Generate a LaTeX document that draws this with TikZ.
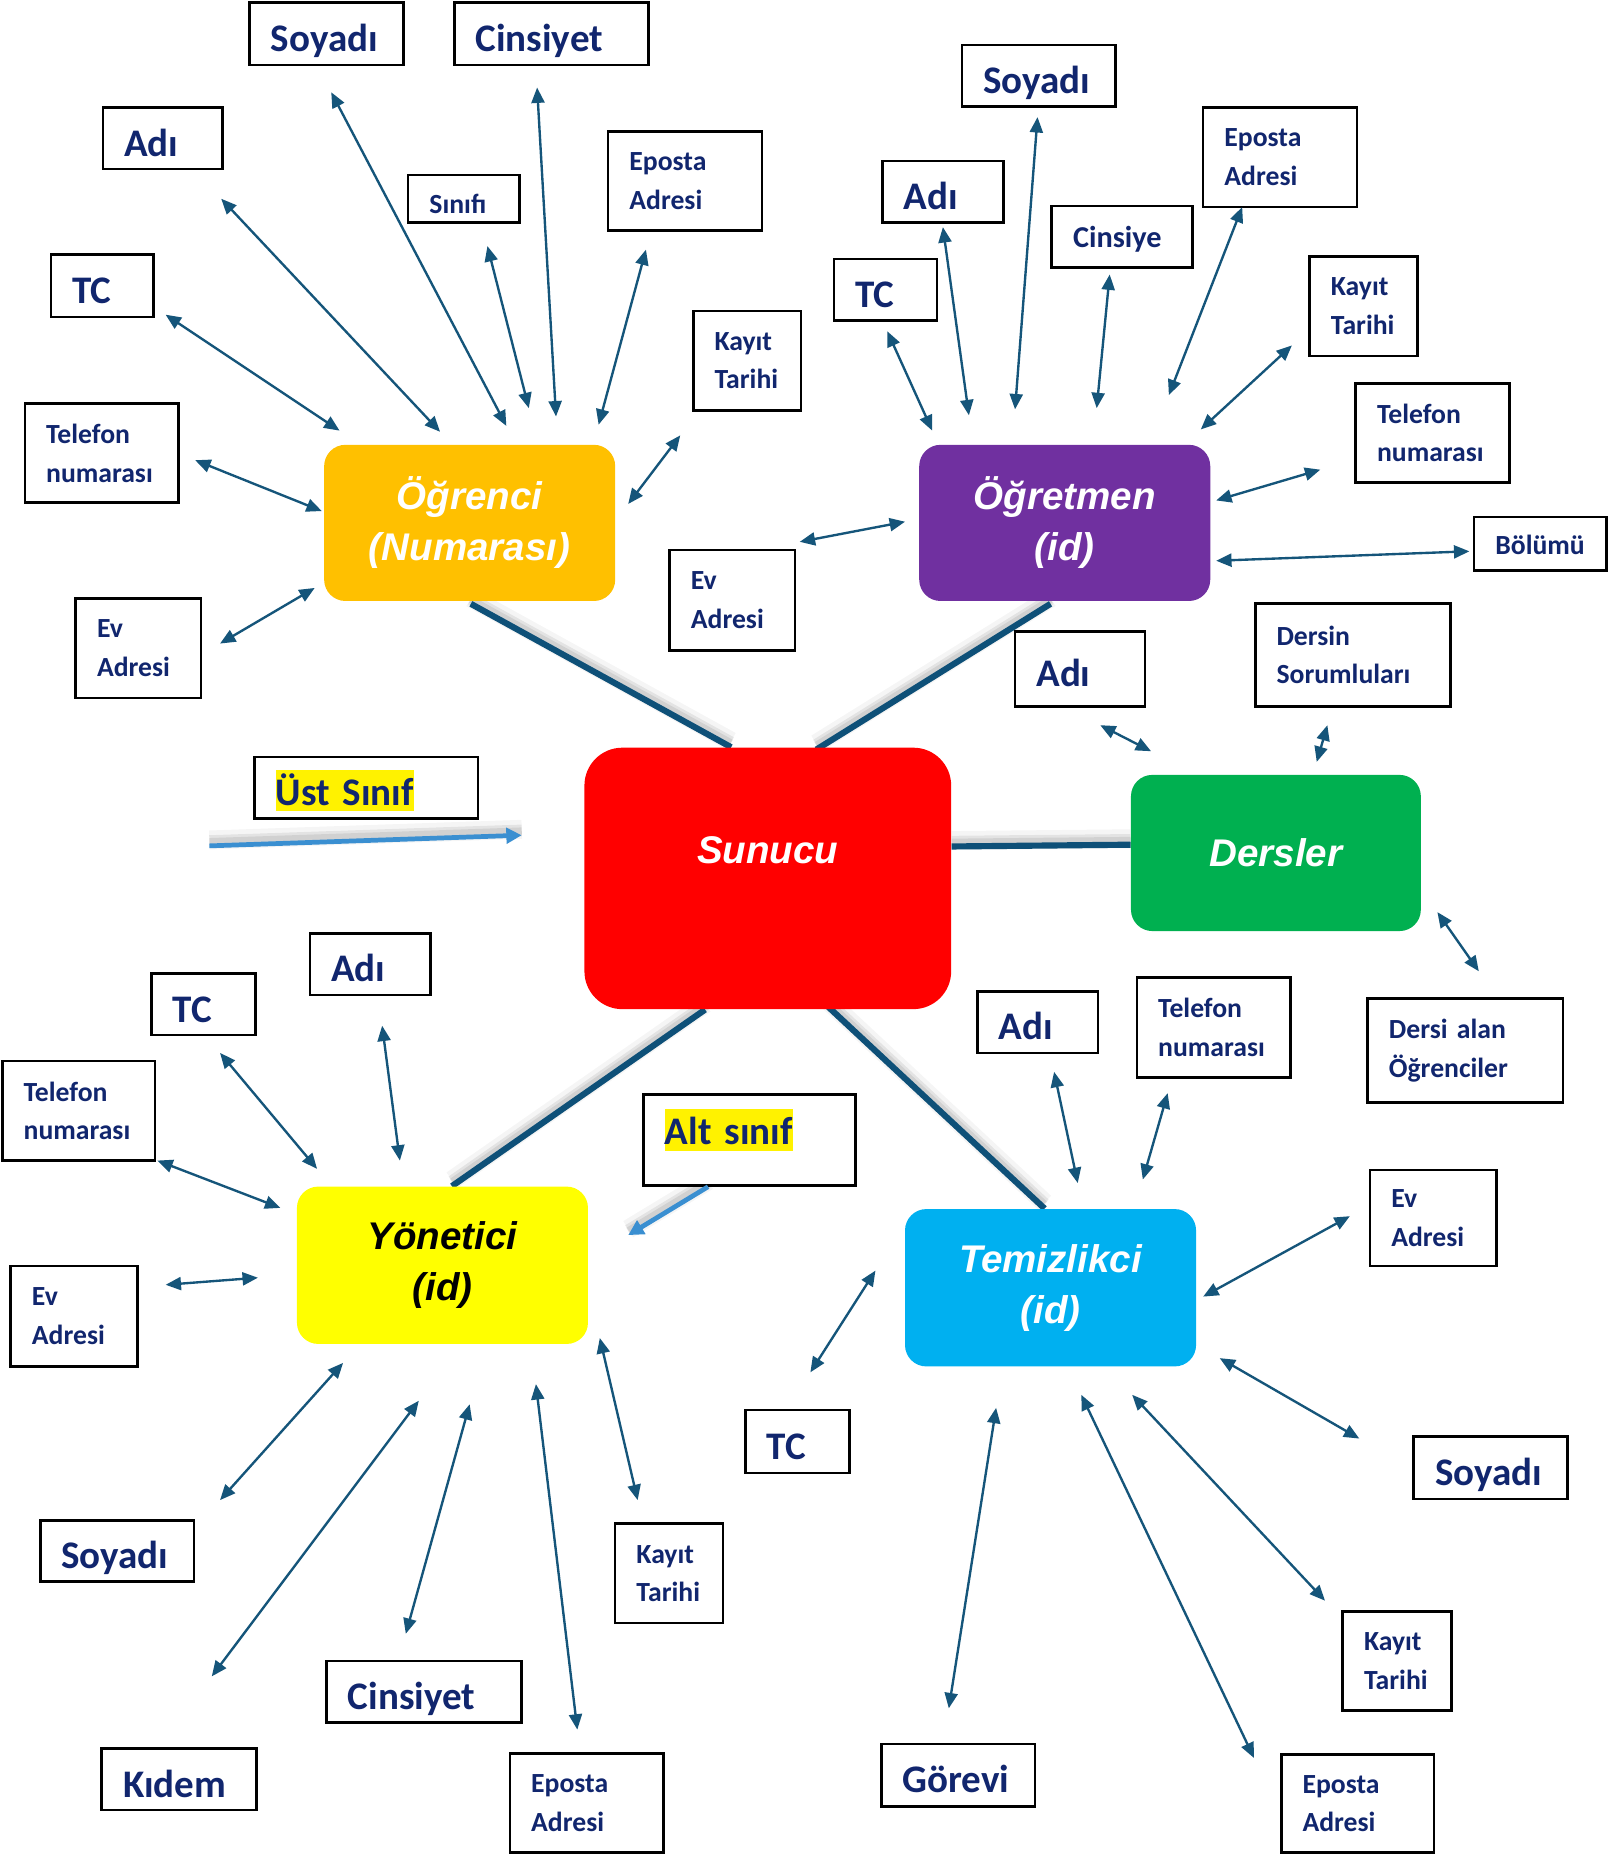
\documentclass[tikz,border=0pt]{standalone}
\usepackage{fontspec}
\setmainfont{Carlito}
\newfontfamily\arialf{Liberation Sans}
\usetikzlibrary{arrows.meta,calc}
\definecolor{navy}{RGB}{17,38,110}
\definecolor{arrc}{HTML}{15557A}
\definecolor{linkc}{HTML}{0E5078}
\definecolor{skyarr}{HTML}{3A8FD1}
\definecolor{cOrange}{HTML}{FFC000}
\definecolor{cPurple}{HTML}{7030A0}
\definecolor{cGreen}{HTML}{00B050}
\definecolor{cYellow}{HTML}{FFFF00}
\definecolor{cCyan}{HTML}{00B0F0}
\definecolor{cRed}{HTML}{FF0000}
\pgfdeclarelayer{bg}
\pgfsetlayers{bg,main}
\hyphenpenalty=10000
\exhyphenpenalty=10000
\newcommand\fntL{\fontsize{16.5}{20}\selectfont\bfseries}
\newcommand\fntM{\fontsize{12.8}{16}\selectfont\bfseries}
\newcommand\fntS{\fontsize{11.7}{16.3}\selectfont\bfseries}
\newcommand\fntC{\fontsize{16.3}{21.5}\selectfont\arialf\bfseries\itshape}
\newcommand\hlt[1]{{\setlength\fboxsep{0pt}\colorbox{yellow}{\rule[-2.5pt]{0pt}{17.5pt}#1}}}
% name, left, top, width, height, style, text
\newcommand\attr[7]{%
  \pgfmathsetmacro\attrtw{(#4-36)*0.5}%
  \pgfmathsetmacro\attrmw{#4*0.5}%
  \pgfmathsetmacro\attrmh{#5*0.5}%
  \node[abox,#6,text width=\attrtw pt,minimum width=\attrmw pt,minimum height=\attrmh pt] (#1) at ({#2+#4/2},{#3+#5/2}) {#7};%
}
\newcommand\conn[3]{%
  \coordinate (#1a) at (#2);%
  \coordinate (#1b) at (#3);%
  \draw[biarrow] (#1a) -- (#1b);%
}
\tikzset{
  abox/.style={draw=black,line width=1.1pt,fill=white,text=navy,inner xsep=9pt,inner ysep=0pt,align=left},
  big/.style={font=\fntL,text height=17pt,text depth=2pt},
  mid/.style={font=\fntM,text height=10pt,text depth=1pt},
  sml/.style={font=\fntS},
  cbox/.style={rounded corners=9pt,inner sep=0pt,text=white,font=\fntC,align=center},
  ctext/.style={inner sep=0pt,text=white,font=\fntC,align=center},
  biarrow/.style={draw=arrc,line width=1pt,{Triangle[length=6.5pt,width=5.5pt]}-{Triangle[length=6.5pt,width=5.5pt]}},
  link/.style={draw=linkc,line width=2.6pt},
  shadowA/.style={draw=black,opacity=0.04,line width=8pt,transform canvas={yshift=2.5pt}},
  shadowB/.style={draw=black,opacity=0.07,line width=5pt,transform canvas={yshift=2pt}},
  shadowC/.style={draw=black,opacity=0.08,line width=3pt,transform canvas={yshift=1.8pt}},
  skyarrow/.style={draw=skyarr,line width=2pt,-{Triangle[length=6.5pt,width=6.5pt]}},
}
\begin{document}
\begin{tikzpicture}[x=0.5pt,y=-0.5pt]
\useasboundingbox (0,0) rectangle (1360,1568);
\begin{pgfonlayer}{bg}
\fill[white] (0,0) rectangle (1360,1568);
\end{pgfonlayer}

% central entities
\node[cbox,fill=cRed,rounded corners=16pt,minimum width=155pt,minimum height=110.5pt] (sun) at (649,742.5) {};
\node[ctext] (suntxt) at ($(sun.center)+(0,-24)$) {Sunucu};
\node[cbox,fill=cOrange,minimum width=123pt,minimum height=66pt] (ogr) at (397,442) {Öğrenci\\(Numarası)};
\node[cbox,fill=cPurple,minimum width=123pt,minimum height=66pt] (ogt) at (900,442) {Öğretmen\\(id)};
\node[cbox,fill=cGreen,minimum width=122.5pt,minimum height=66pt] (der) at (1078.5,721) {Dersler};
\node[cbox,fill=cYellow,text=black,minimum width=123pt,minimum height=66.5pt] (yon) at (374,1069.5) {Yönetici\\(id)};
\node[cbox,fill=cCyan,minimum width=123pt,minimum height=66.5pt] (tem) at (888,1088.5) {Temizlikci\\(id)};

% main links
\begin{pgfonlayer}{bg}
\foreach \st in {shadowA,shadowB,shadowC,link}{
  \draw[\st] ($(ogr.south)+(1,2)$) -- ($(sun.north)+(-31,0)$);
  \draw[\st] ($(ogt.south)+(-12,2)$) -- ($(sun.north)+(41,2)$);
  \draw[\st] ($(sun.east)+(0,-27)$) -- ($(der.west)+(0,-7)$);
  \draw[\st] ($(sun.south)+(-53,0)$) -- ($(yon.north)+(8,0)$);
  \draw[\st] ($(sun.south)+(45,-8)$) -- ($(tem.north)+(-5,0)$);
}
\end{pgfonlayer}

% Ogrenci attributes
\attr{os}{211}{2}{130}{53}{big}{Soyadı}
\attr{oc}{384}{2}{164}{53}{big}{Cinsiyet}
\attr{oa}{87}{91}{101}{52}{big}{Adı}
\attr{osn}{345}{148}{94}{40}{sml,text height=13pt,text depth=0.5pt}{Sınıfı}
\attr{oe}{514}{111}{130}{84}{sml}{Eposta\\Adresi}
\attr{otc}{43}{215}{87}{53}{big}{TC}
\attr{ok}{586}{263}{91}{84}{sml}{Kayıt\\Tarihi}
\attr{ot}{21}{341}{130}{84}{sml}{Telefon\\numarası}
\attr{oev}{64}{506}{106}{84}{sml}{Ev\\Adresi}
\conn{aos}{280,78}{428,360}
\conn{aoc}{454,74}{470,352}
\conn{aoa}{187,168}{372,365}
\conn{aosn}{412,208}{447,345}
\conn{aoe}{546,211}{506,359}
\conn{aotc}{140,266}{287,364}
\conn{aok}{575,368}{531,426}
\conn{aot}{165,389}{272,432}
\conn{aoev}{186,544}{266,497}

% Ogretmen attributes
\attr{ts}{813}{38}{130}{52}{big}{Soyadı}
\attr{ta}{746}{136}{102}{52}{big}{Adı}
\attr{tci}{889}{174}{119}{52}{mid}{Cinsiye}
\attr{te}{1017}{91}{130}{84}{sml}{Eposta\\Adresi}
\attr{ttc}{705}{219}{87}{52}{big}{TC}
\attr{tk}{1107}{217}{91}{84}{sml}{Kayıt\\Tarihi}
\attr{tt}{1146}{324}{130}{84}{sml}{Telefon\\numarası}
\attr{tb}{1246}{437}{112}{45}{sml,text height=9.5pt,text depth=0.5pt}{Bölümü}
\attr{tev}{566}{465}{106}{85}{sml}{Ev\\Adresi}
\conn{ats}{877,99}{858,346}
\conn{ata}{797,192}{819,351}
\conn{atci}{938,232}{927,345}
\conn{ate}{1050,175}{988,334}
\conn{attc}{750,280}{788,364}
\conn{atk}{1092,292}{1015,363}
\conn{att}{1116,397}{1028,423}
\conn{atb}{1242,466}{1028,474}
\conn{atev}{765,441}{676,458}

% Dersler attributes
\attr{da}{858}{534}{110}{63}{big}{Adı}
\attr{dsr}{1061}{510}{165}{87}{sml}{Dersin\\Sorumluları}
\attr{dal}{1156}{844}{165}{88}{sml}{Dersi alan\\Öğrenciler}
\conn{ada}{930,613}{973,635}
\conn{adsr}{1122,613}{1113,644}
\conn{adal}{1215,771}{1250,821}

% Ust / Alt sinif
\attr{ust}{215}{640}{189}{52}{big,text height=16.5pt,text depth=2pt}{\hlt{Üst Sınıf}}
\attr{alt}{544}{925}{179}{77}{big,text height=8pt,text depth=4pt}{\hlt{Alt sınıf}}
\coordinate (usta) at (177,715);
\coordinate (ustb) at (441,706);
\coordinate (altb) at (531,1044);
\begin{pgfonlayer}{bg}
\foreach \st in {shadowA,shadowB,shadowC}{
  \draw[\st] (usta) -- (ustb);
  \draw[\st] ($(alt.south)+(-35,0)$) -- (altb);
}
\end{pgfonlayer}
\draw[skyarrow] (usta) -- (ustb);
\draw[skyarrow] ($(alt.south)+(-35,0)$) -- (altb);

% Yonetici attributes
\attr{ytc}{128}{823}{88}{52}{big}{TC}
\attr{ya}{262}{789}{102}{52}{big}{Adı}
\attr{yt}{2}{897}{129}{84}{sml}{Telefon\\numarası}
\attr{yev}{9}{1070}{107}{85}{sml}{Ev\\Adresi}
\attr{ys}{34}{1285}{130}{52}{big}{Soyadı}
\attr{ykd}{86}{1478}{131}{52}{big}{Kıdem}
\attr{yc}{276}{1404}{165}{52}{big}{Cinsiyet}
\attr{ye}{431}{1482}{130}{84}{sml}{Eposta\\Adresi}
\attr{yk}{520}{1288}{91}{84}{sml}{Kayıt\\Tarihi}
\conn{aytc}{186,890}{268,988}
\conn{aya}{323,867}{338,981}
\conn{ayt}{133,981}{237,1021}
\conn{ayev}{140,1086}{218,1080}
\conn{ays}{290,1152}{186,1268}
\conn{aykd}{354,1184}{179,1417}
\conn{ayc}{397,1187}{343,1381}
\conn{aye}{453,1170}{488,1462}
\conn{ayk}{507,1131}{539,1268}

% Temizlikci attributes
\attr{ma}{826}{838}{102}{52}{big}{Adı}
\attr{mt}{961}{826}{130}{85}{sml}{Telefon\\numarası}
\attr{mev}{1158}{989}{107}{81}{sml}{Ev\\Adresi}
\attr{mtc}{630}{1192}{88}{53}{big}{TC}
\attr{ms}{1195}{1214}{130}{53}{big}{Soyadı}
\attr{mk}{1135}{1362}{92}{84}{sml}{Kayıt\\Tarihi}
\attr{mg}{745}{1474}{130}{53}{big}{Görevi}
\attr{me}{1083}{1483}{129}{83}{sml}{Eposta\\Adresi}
\conn{ama}{891,906}{911,1000}
\conn{amt}{987,924}{966,997}
\conn{amev}{1141,1028}{1017,1096}
\conn{amtc}{740,1074}{685,1160}
\conn{ams}{1031,1148}{1149,1216}
\conn{amk}{957,1179}{1120,1353}
\conn{amg}{842,1190}{802,1444}
\conn{ame}{914,1179}{1060,1486}
\end{tikzpicture}
\end{document}
